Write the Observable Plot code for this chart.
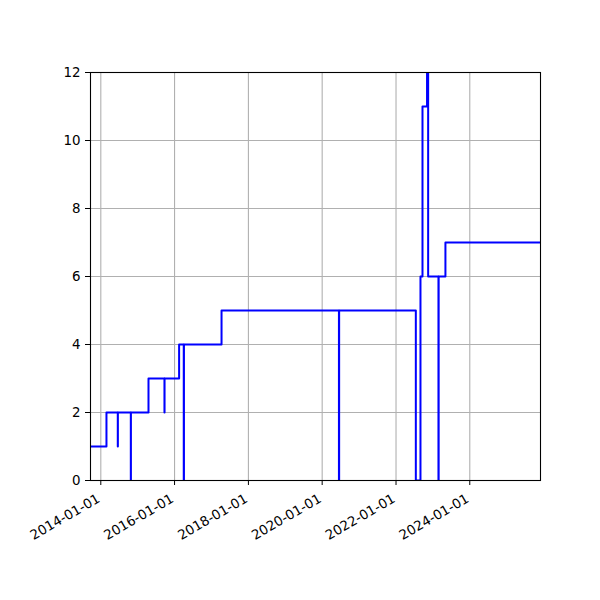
<!DOCTYPE html>
<html><head><meta charset="utf-8">
<script src="https://cdn.jsdelivr.net/npm/d3@7"></script>
<script src="https://cdn.jsdelivr.net/npm/@observablehq/plot@0.6"></script>
<style>body{margin:0;background:#fff}#chart{width:600px;height:600px}</style>
</head><body><div id="chart"></div>
<script>
const dates = [
  "2013-09-21","2014-02-26","2014-06-18","2014-06-19","2014-10-25","2014-10-26",
  "2015-04-18","2015-09-23","2015-09-24","2016-02-15","2016-04-01","2016-04-03",
  "2017-04-10","2020-06-15","2020-06-17","2022-07-16","2022-08-31","2022-09-20",
  "2022-11-04","2022-11-15","2023-02-25","2023-02-27","2023-05-05","2025-12-01"
];
const values = [
  1,2,1,2,0,2,
  3,2,3,4,0,4,
  5,0,5,0,6,11,
  12,6,0,6,7,7
];
const xTicks = ["2014-01-01","2016-01-01","2018-01-01","2020-01-01","2022-01-01","2024-01-01"];
const yTicks = [0,2,4,6,8,10,12];
const xDomain = ["2013-09-21","2025-12-01"];

const parse = d3.utcParse("%Y-%m-%d");
const data = dates.map((d, i) => ({date: parse(d), value: values[i]}));
const tickDates = xTicks.map(parse);

const chart = Plot.plot({
  width: 600, height: 600,
  marginLeft: 90, marginRight: 60, marginTop: 72, marginBottom: 120,
  style: {fontFamily: "DejaVu Sans", fontSize: "13.4px", background: "white", color: "black"},
  x: {type: "utc", domain: xDomain.map(parse), label: null},
  y: {domain: [0, 12], label: null},
  marks: [
    Plot.gridX(tickDates, {stroke: "#b0b0b0", strokeOpacity: 1, strokeWidth: 1.1}),
    Plot.gridY(yTicks, {stroke: "#b0b0b0", strokeOpacity: 1, strokeWidth: 1.1}),
    Plot.line(data, {x: "date", y: "value", curve: "step-after", stroke: "blue", strokeWidth: 2, clip: true}),
    Plot.frame({stroke: "black", strokeWidth: 1.1}),
    Plot.axisX(tickDates, {tickFormat: () => "", tickSize: 5, label: null}),
    Plot.axisX(tickDates, {tickFormat: d3.utcFormat("%Y-%m-%d"), tickRotate: -30, tickSize: 0, tickPadding: 9, textAnchor: "end", dx: -2, dy: 8, label: null}),
    Plot.axisY(yTicks, {tickSize: 5, tickPadding: 5, label: null})
  ]
});
document.getElementById("chart").appendChild(chart);
</script>
</body></html>
